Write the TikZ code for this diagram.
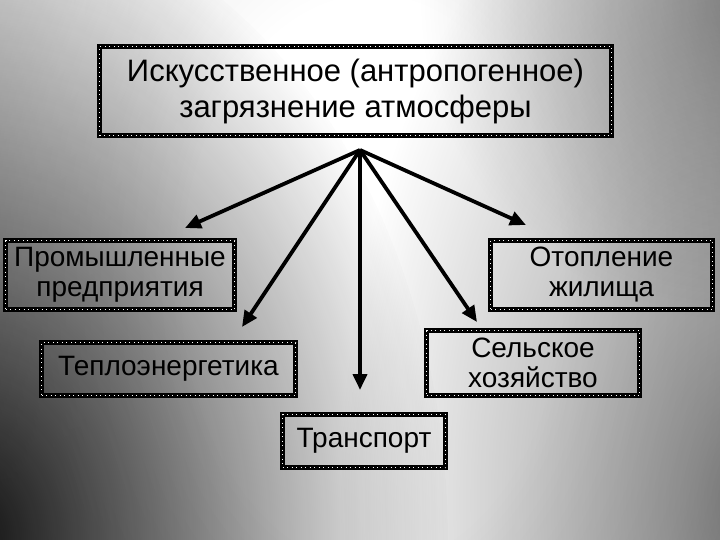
\documentclass[tikz,border=0pt]{standalone}
\usepackage{fontspec}
\setmainfont{Liberation Sans}
\usetikzlibrary{arrows.meta,fadings}
\pgfdeclareradialshading{bgshade}{\pgfpoint{0bp}{0bp}}{color(0bp)=(white); color(11bp)=(white); color(20bp)=(black!10); color(30bp)=(black!30); color(40bp)=(black!55); color(50bp)=(black!80)}
\tikzfading[name=softfade, inner color=transparent!0, outer color=transparent!100]
\tikzset{
  dotbox/.style={draw=black, line width=5.5pt, inner sep=0pt, align=center, text=black,
    postaction={draw=white, line width=1.1pt, dash pattern=on 1pt off 3.5pt}},
  lowtext/.style={font=\fontsize{28}{30}\selectfont},
  conn/.style={line width=3.8pt, -{Triangle[length=16pt,width=14pt]}}
}
\begin{document}
\begin{tikzpicture}[x=1pt,y=-1pt]
\useasboundingbox (0,0) rectangle (720,540);
\begin{scope}
\clip (0,0) rectangle (720,540);
\shade[shading=bgshade] (-58,-360) rectangle (802,920);
\fill[white, fill opacity=0.3, path fading=softfade] (0,0) ellipse [x radius=420pt, y radius=520pt];
\fill[black, fill opacity=0.9, path fading=softfade] (-30,540) ellipse [x radius=480pt, y radius=640pt];
\fill[black, fill opacity=0.45, path fading=softfade] (740,500) ellipse [x radius=400pt, y radius=700pt];
\fill[black, fill opacity=0.3, path fading=softfade] (740,0) ellipse [x radius=320pt, y radius=320pt];
\end{scope}
\node[dotbox, minimum width=512pt, minimum height=89pt, font=\fontsize{31}{36}\selectfont] (top) at (355.5,91) {Искусственное (антропогенное)\\загрязнение атмосферы};
\node[dotbox, lowtext, minimum width=229pt, minimum height=69pt] (prom) at (120,275) {Промышленные\\предприятия};
\node[dotbox, lowtext, minimum width=222pt, minimum height=69pt] (otop) at (601.5,275) {Отопление\\жилища};
\node[dotbox, lowtext, minimum width=254pt, minimum height=53pt] (tepl) at (168.5,369) {Теплоэнергетика};
\node[dotbox, lowtext, minimum width=213pt, minimum height=65pt] (sels) at (533,363) {Сельское\\хозяйство};
\node[dotbox, lowtext, minimum width=163pt, minimum height=53pt] (trans) at (364,441) {Транспорт};
\coordinate (apex) at (360,150);
\coordinate (tp) at (185,228);
\coordinate (tt) at (242,327);
\coordinate (ttr) at (360,390);
\coordinate (ts) at (477,322);
\coordinate (to) at (526,225);
\draw[conn] (apex) -- (tp);
\draw[conn] (apex) -- (tt);
\draw[conn] (apex) -- (ttr);
\draw[conn] (apex) -- (ts);
\draw[conn] (apex) -- (to);
\end{tikzpicture}
\end{document}
